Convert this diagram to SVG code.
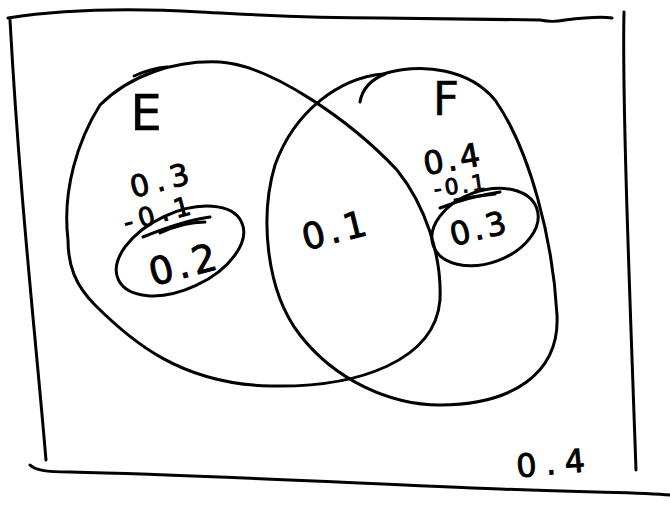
<svg xmlns="http://www.w3.org/2000/svg" width="670" height="507" viewBox="0 0 670 507">
<style>
.ln{fill:none;stroke:#000;stroke-width:3;stroke-linecap:round;stroke-linejoin:round}
.t{font-family:"DejaVu Sans","Liberation Sans",sans-serif;fill:#000;stroke:#000;stroke-width:0.9;text-anchor:middle}
</style>
<rect width="670" height="507" fill="#fff"/>
<g id="box">
<path class="ln" d="M 8,18 C 60,10 130,8 200,12 C 260,15 300,18 380,18 L 540,20 C 550,22 555,22 565,20 C 590,17 605,17 612,18"/>
<path class="ln" d="M 10,20 C 20,200 35,330 46,460"/>
<path class="ln" d="M 624,12 C 622,100 630,300 636,470"/>
<path class="ln" d="M 30,465 C 35,470 45,472 70,472 C 200,475 350,483 500,489 C 600,493 640,492 670,495"/>
<text class="t" font-size="32" letter-spacing="9" transform="translate(556,474) rotate(-5)">0.4</text>
</g>
<g id="set-E">
<path class="ln" d="M 68,240 C 62,190 78,140 100,105 C 130,75 175,60 220,62 C 270,65 350,120 397,170 C 425,205 442,255 440,300 C 435,360 360,388 270,386 C 180,384 130,340 95,305 C 75,285 68,265 68,240 Z"/>
<path class="ln" d="M 134,76 C 145,71 155,68 167,67"/>
<text class="t" font-size="50" x="146" y="130" style="stroke-width:0.4">E</text>
<text class="t" font-size="30" letter-spacing="6" transform="translate(165,190) rotate(-14)">0.3</text>
<text class="t" font-size="26" letter-spacing="6" transform="translate(162,222) rotate(-15)">-0.1</text>
<path class="ln" d="M 143,237 C 165,228 190,220 210,217"/>
<path class="ln" d="M 160,233 C 175,226 190,222 205,222"/>
</g>
<g id="E-only">
<ellipse class="ln" cx="180" cy="251" rx="68" ry="38" transform="rotate(-25 180 251)"/>
<text class="t" font-size="38" letter-spacing="4" transform="translate(188,277) rotate(-15)">0.2</text>
</g>
<g id="set-F">
<path class="ln" d="M 383,74 C 340,78 295,110 275,165 C 260,215 265,290 300,335 C 335,380 390,405 440,405 C 510,405 560,375 557,315 C 553,240 530,150 495,100 C 470,70 425,62 383,74"/>
<path class="ln" d="M 360,102 C 362,90 370,80 385,74"/>
<text class="t" font-size="46" x="446" y="115" style="stroke-width:0.4">F</text>
<text class="t" font-size="32" letter-spacing="3" transform="translate(455,170) rotate(-10)">0.4</text>
<text class="t" font-size="22" letter-spacing="3" transform="translate(462,193) rotate(-8)">-0.1</text>
<path class="ln" d="M 440,208 C 460,200 480,195 500,192"/>
<path class="ln" d="M 455,200 C 470,197 485,195 495,194"/>
</g>
<g id="F-only">
<ellipse class="ln" cx="485" cy="227" rx="55" ry="36" transform="rotate(-20 485 227)"/>
<text class="t" font-size="32" letter-spacing="3" transform="translate(482,239) rotate(-14)">0.3</text>
</g>
<g id="E-and-F">
<text class="t" font-size="36" letter-spacing="4" transform="translate(339,242) rotate(-14)">0.1</text>
</g>
</svg>
